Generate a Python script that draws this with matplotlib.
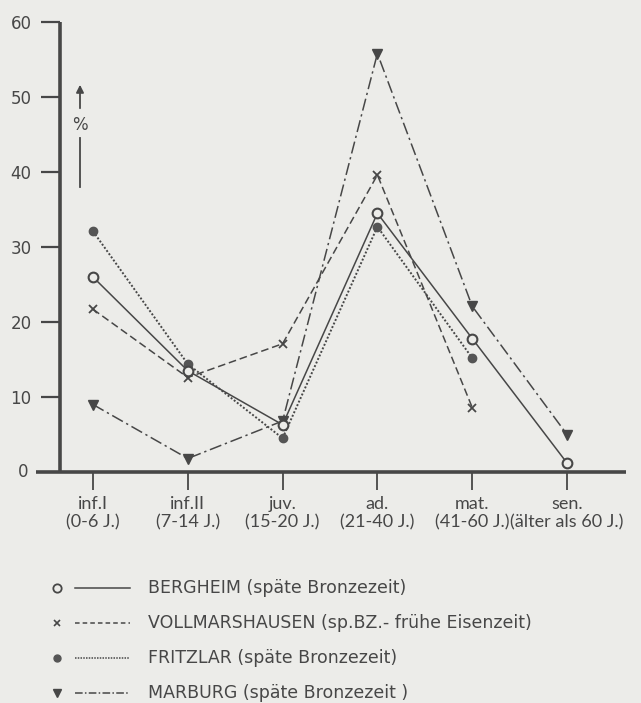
import matplotlib.pyplot as plt
from matplotlib.lines import Line2D

# age classes
categories = ["inf.I\n(0-6 J.)", "inf.II\n(7-14 J.)", "juv.\n(15-20 J.)",
              "ad.\n(21-40 J.)", "mat.\n(41-60 J.)", "sen.\n(älter als 60 J.)"]

bergheim = [26, 13.5, 6.3, 34.5, 17.8, 1.2]
vollmarshausen = [21.7, 12.6, 17.1, 39.6, 8.6]
fritzlar = [32.1, 14.4, 4.5, 32.7, 15.2]
marburg = [9.0, 1.8, 6.8, 55.8, 22.1, 5.0]

legend_labels = ["BERGHEIM (späte Bronzezeit)",
                 "VOLLMARSHAUSEN (sp.BZ.- frühe Eisenzeit)",
                 "FRITZLAR (späte Bronzezeit)",
                 "MARBURG (späte Bronzezeit )"]

ink = "#474747"
paper = "#ecece9"

plt.rcParams["font.family"] = ["DejaVu Sans"]

fig = plt.figure(figsize=(6.41, 7.03), dpi=100, facecolor=paper)
ax = fig.add_axes([59.5 / 641, 1 - 472 / 703, 566.5 / 641, 450 / 703])
ax.set_facecolor(paper)
ax.set_xlim(-0.353, 5.622)
ax.set_ylim(0, 60)

for s in ax.spines.values():
    s.set_visible(False)
ax.plot([-0.353, -0.353], [0, 60], color=ink, lw=2.6, clip_on=False, solid_capstyle="butt")
ax.plot([-0.6, 5.622], [0, 0], color=ink, lw=2.6, clip_on=False, solid_capstyle="butt")

ax.set_yticks([10, 20, 30, 40, 50, 60])
ax.set_yticklabels(["10", "20", "30", "40", "50", "60"])
ax.tick_params(axis="y", direction="out", length=14, width=1.6, color=ink,
               labelcolor=ink, labelsize=12, pad=6)
ax.text(-0.74, 0, "0", ha="center", va="center", fontsize=12, color=ink)

x = list(range(len(categories)))
ax.set_xticks(x)
ax.set_xticklabels(categories, linespacing=1.2, family=["Lato", "DejaVu Sans"])
ax.tick_params(axis="x", direction="out", length=13, width=1.3, color=ink,
               labelcolor=ink, labelsize=13, pad=4)

lw = 1.1
ax.plot(x, bergheim, color=ink, lw=lw, ls="-", marker="o", ms=7,
        mfc=paper, mec=ink, mew=1.5, clip_on=False, zorder=4)
ax.plot(x[:len(vollmarshausen)], vollmarshausen, color=ink, lw=lw, ls=(0, (5, 2.5)),
        marker="x", ms=6, mew=1.3, clip_on=False, zorder=3)
ax.plot(x[:len(fritzlar)], fritzlar, color=ink, lw=1.4, ls=(0, (1, 1)),
        marker="o", ms=6, mfc="#555555", mec="#555555", clip_on=False, zorder=3)
ax.plot(x, marburg, color=ink, lw=lw, ls=(0, (8, 2.5, 1.5, 2.5)),
        marker="v", ms=7, mfc=ink, mec=ink, clip_on=False, zorder=3)

# overlay in pixel units for the percent arrow and the legend
lax = fig.add_axes([0, 0, 1, 1])
lax.set_xlim(0, 641)
lax.set_ylim(703, 0)
lax.axis("off")
lax.patch.set_alpha(0)

lax.annotate("", xy=(80, 82), xytext=(80, 111),
             arrowprops=dict(arrowstyle="-|>", color=ink, lw=1.3, mutation_scale=11))
lax.text(80, 125, "%", ha="center", va="center", fontsize=12, color=ink)
lax.plot([80, 80], [138, 187], color=ink, lw=1.3)

legend_y = [588, 623, 658, 693]
legend_styles = [
    dict(ls="-", marker="o", mfc=paper, mec=ink, ms=6, mew=1.3),
    dict(ls=(0, (3, 2)), marker="x", mfc=ink, mec=ink, ms=5, mew=1.2),
    dict(ls=(0, (1, 0.8)), marker="o", mfc="#555555", mec="#555555", ms=5, mew=1),
    dict(ls=(0, (5, 1.5, 1, 1.5)), marker="v", mfc=ink, mec=ink, ms=6, mew=1),
]
for yy, label, st in zip(legend_y, legend_labels, legend_styles):
    lax.plot([57], [yy], ls="none", marker=st["marker"], mfc=st["mfc"], mec=st["mec"],
             ms=st["ms"], mew=st["mew"])
    lax.add_line(Line2D([75, 130], [yy, yy], color=ink, lw=1.1, ls=st["ls"]))
    lax.text(148, yy, label, va="center", ha="left", fontsize=12.5, color=ink)

fig.savefig("out.png", dpi=100, facecolor=paper)
